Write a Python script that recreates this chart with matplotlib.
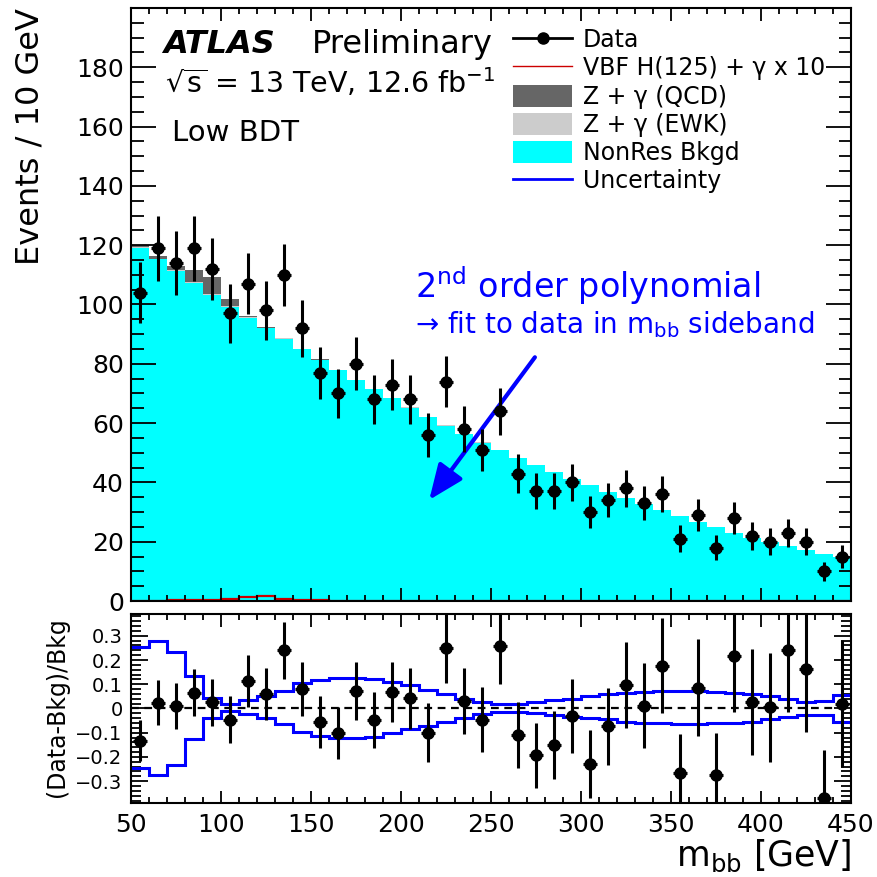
import numpy as np
import matplotlib
matplotlib.use("Agg")
import matplotlib.pyplot as plt
from matplotlib.lines import Line2D
from matplotlib.patches import Patch
from matplotlib.ticker import MultipleLocator, FixedLocator, FuncFormatter

plt.rcParams["font.family"] = ["DejaVu Sans"]
plt.rcParams["mathtext.fontset"] = "dejavusans"

# m_bb binning: 10 GeV bins from 50 to 450 GeV
mbb_edges = np.arange(50, 451, 10)
mbb_centers = mbb_edges[:-1] + 5

data_counts = [104, 119, 114, 119, 112, 97, 107, 98, 110, 92,
               77, 70, 80, 68, 73, 68, 56, 74, 58, 51,
               64, 43, 37, 37, 40, 30, 34, 38, 33, 36,
               21, 29, 18, 28, 22, 20, 23, 20, 10, 15]

nonres_bkg = [119.0, 115.2, 111.2, 107.2, 103.2, 99.3, 95.6, 92.0, 88.5, 84.9,
              81.3, 77.9, 74.6, 71.4, 68.3, 65.2, 62.1, 59.1, 56.2, 53.4,
              50.8, 48.3, 45.9, 43.6, 41.3, 39.0, 36.7, 34.6, 32.6, 30.6,
              28.6, 26.7, 24.8, 23.0, 21.4, 19.9, 18.5, 17.2, 15.9, 14.7]

zgamma_ewk = [0.4, 0.3, 0.3, 0.3, 0.3, 0.2, 0.2, 0.2, 0.1, 0.1,
              0.1, 0.1, 0.1, 0.1, 0.1, 0.1, 0.1, 0.1, 0.1, 0.1,
              0.0, 0.0, 0.0, 0.0, 0.0, 0.0, 0.0, 0.0, 0.0, 0.0,
              0.0, 0.0, 0.0, 0.0, 0.0, 0.0, 0.0, 0.0, 0.0, 0.0]

zgamma_qcd = [0.6, 0.7, 1.4, 4.2, 5.8, 2.3, 0.4, 0.2, 0.1, 0.1,
              0.1, 0.0, 0.0, 0.0, 0.0, 0.0, 0.0, 0.0, 0.0, 0.0,
              0.0, 0.0, 0.0, 0.0, 0.0, 0.0, 0.0, 0.0, 0.0, 0.0,
              0.0, 0.0, 0.0, 0.0, 0.0, 0.0, 0.0, 0.0, 0.0, 0.0]

vbf_signal_x10 = [0.1, 0.1, 0.2, 0.3, 0.4, 0.8, 1.5, 1.7, 0.8, 0.3,
                  0.2, 0.1, 0.1, 0.1, 0.1, 0.0, 0.0, 0.0, 0.0, 0.0,
                  0.0, 0.0, 0.0, 0.0, 0.0, 0.0, 0.0, 0.0, 0.0, 0.0,
                  0.0, 0.0, 0.0, 0.0, 0.0, 0.0, 0.0, 0.0, 0.0, 0.0]

# relative background uncertainty envelope (up / down)
unc_up = [0.254, 0.280, 0.235, 0.136, 0.045, 0.018, 0.034, 0.050, 0.072, 0.105,
          0.118, 0.125, 0.127, 0.122, 0.109, 0.095, 0.078, 0.061, 0.041, 0.027,
          0.020, 0.020, 0.027, 0.034, 0.041, 0.050, 0.058, 0.064, 0.068, 0.072,
          0.072, 0.072, 0.070, 0.064, 0.058, 0.050, 0.041, 0.027, 0.030, 0.055]
unc_down = [-0.245, -0.275, -0.234, -0.127, -0.041, -0.010, -0.023, -0.041, -0.064, -0.095,
            -0.113, -0.122, -0.122, -0.116, -0.102, -0.086, -0.072, -0.054, -0.038, -0.024,
            -0.014, -0.014, -0.020, -0.027, -0.034, -0.041, -0.045, -0.054, -0.058, -0.061,
            -0.064, -0.064, -0.061, -0.058, -0.054, -0.045, -0.034, -0.027, -0.027, -0.054]

CYAN = "#00ffff"
DARK = "#666666"
LIGHT = "#cccccc"
BLUE = "#0000ff"
RED = "#cc0000"

data = np.array(data_counts, dtype=float)
nr = np.array(nonres_bkg)
ewk = np.array(zgamma_ewk)
qcd = np.array(zgamma_qcd)
bkg = nr + ewk + qcd

fig = plt.figure(figsize=(8.78, 8.77), dpi=100)
ax1 = fig.add_axes([0.1492, 0.3147, 0.8200, 0.6762])
ax2 = fig.add_axes([0.1492, 0.0844, 0.8200, 0.2155])

# ---- main panel: stacked backgrounds, signal, data
ax1.stairs(nr, mbb_edges, baseline=0, fill=True, color=CYAN, lw=0)
ax1.stairs(nr + ewk, mbb_edges, baseline=nr, fill=True, color=LIGHT, lw=0)
ax1.stairs(bkg, mbb_edges, baseline=nr + ewk, fill=True, color=DARK, lw=0)
ax1.stairs(vbf_signal_x10, mbb_edges, baseline=0, color=RED, lw=1.6)
ax1.errorbar(mbb_centers, data, yerr=np.sqrt(data), xerr=4, fmt="o", color="black",
             ms=8, elinewidth=2.2, capsize=0, zorder=5)

ax1.set_xlim(50, 450)
ax1.set_ylim(0, 200)
ax1.yaxis.set_major_locator(FixedLocator(np.arange(0, 181, 20)))
ax1.yaxis.set_minor_locator(MultipleLocator(5))
ax1.xaxis.set_major_locator(MultipleLocator(50))
ax1.xaxis.set_minor_locator(MultipleLocator(10))
ax1.tick_params(axis="both", which="both", direction="in", top=True, right=True, width=1.3)
ax1.tick_params(axis="y", which="major", length=18, labelsize=18, pad=5)
ax1.tick_params(axis="y", which="minor", length=9)
ax1.tick_params(axis="x", which="major", length=9.5, labelbottom=False)
ax1.tick_params(axis="x", which="minor", length=4.5)
for sp in ax1.spines.values():
    sp.set_linewidth(1.5)

ax1.text(0.044, 0.924, "ATLAS", transform=ax1.transAxes, fontsize=23,
         fontweight="bold", fontstyle="italic", va="baseline")
ax1.text(0.251, 0.924, "Preliminary", transform=ax1.transAxes, fontsize=23, va="baseline")
ax1.text(0.047, 0.856, r"$\sqrt{\mathrm{s}}$ = 13 TeV, 12.6 fb$^{-1}$",
         transform=ax1.transAxes, fontsize=20.5, va="baseline")
ax1.text(0.057, 0.775, "Low BDT", transform=ax1.transAxes, fontsize=21, va="baseline")

ax1.text(207.8, 102.2, r"2$^{\mathrm{nd}}$ order polynomial", color=BLUE,
         fontsize=24, va="baseline")
ax1.text(207.8, 90.4, r"→ fit to data in m$_{\mathrm{bb}}$ sideband", color=BLUE,
         fontsize=20, va="baseline")
ax1.annotate("", xy=(215.7, 34.1), xytext=(274.4, 82.2),
             arrowprops=dict(arrowstyle="-|>,head_length=0.6,head_width=0.25",
                             color=BLUE, lw=3.0, mutation_scale=36, shrinkA=0, shrinkB=0))

handles = [
    Line2D([], [], color="black", marker="o", ms=8, lw=2),
    Line2D([], [], color=RED, lw=1),
    Patch(facecolor=DARK, edgecolor="none"),
    Patch(facecolor=LIGHT, edgecolor="none"),
    Patch(facecolor=CYAN, edgecolor="none"),
    Line2D([], [], color=BLUE, lw=2),
]
labels = ["Data", "VBF H(125) + γ x 10", "Z + γ (QCD)", "Z + γ (EWK)",
          "NonRes Bkgd", "Uncertainty"]
ax1.legend(handles, labels, loc="upper left", bbox_to_anchor=(0.531, 0.966),
           frameon=False, fontsize=17, handlelength=2.5, handleheight=1.05,
           handletextpad=0.45, labelspacing=0.18, borderpad=0, borderaxespad=0)

# ---- ratio panel
ratio = data / bkg - 1.0
ratio_err = np.sqrt(data) / bkg
ax2.axhline(0, color="black", ls=(0, (3.5, 2.5)), lw=1.6, zorder=1)
ax2.stairs(unc_up, mbb_edges, baseline=None, color=BLUE, lw=2.2, zorder=2)
ax2.stairs(unc_down, mbb_edges, baseline=None, color=BLUE, lw=2.2, zorder=2)
ax2.errorbar(mbb_centers, ratio, yerr=ratio_err, xerr=4, fmt="o", color="black",
             ms=8, elinewidth=2.2, capsize=0, zorder=5)
ax2.set_xlim(50, 450)
ax2.set_ylim(-0.39, 0.39)
ax2.yaxis.set_major_locator(FixedLocator([-0.3, -0.2, -0.1, 0, 0.1, 0.2, 0.3]))
ax2.yaxis.set_minor_locator(MultipleLocator(0.02))
ax2.xaxis.set_major_locator(MultipleLocator(50))
ax2.xaxis.set_minor_locator(MultipleLocator(10))
ax2.yaxis.set_major_formatter(FuncFormatter(
    lambda v, p: ("%g" % round(v, 2)).replace("-", "\u2212") if abs(v) > 1e-9 else "0"))
ax2.tick_params(axis="both", which="both", direction="in", top=True, right=True, width=1.3)
ax2.tick_params(axis="y", which="major", length=12, labelsize=14, pad=6)
ax2.tick_params(axis="y", which="minor", length=7)
ax2.tick_params(axis="x", which="major", length=9, labelsize=18, pad=7)
ax2.tick_params(axis="x", which="minor", length=4.5)
for sp in ax2.spines.values():
    sp.set_linewidth(1.5)

fig.text(0.034, 0.991, "Events / 10 GeV", rotation=90, ha="center", va="top", fontsize=23)
fig.text(0.065, 0.194, "(Data-Bkg)/Bkg", rotation=90, ha="center", va="center", fontsize=17)
fig.text(0.970, 0.024, r"m$_{\mathrm{bb}}$ [GeV]", ha="right", va="center", fontsize=25)

fig.savefig("out.png", dpi=100)
